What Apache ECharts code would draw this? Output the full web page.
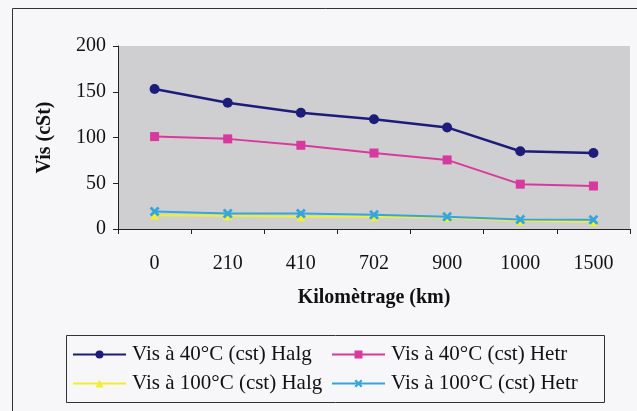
<!DOCTYPE html>
<html>
<head>
<meta charset="utf-8">
<script src="https://cdn.jsdelivr.net/npm/echarts@6/dist/echarts.min.js"></script>
<style>
html,body{margin:0;padding:0;background:#f7f7f9;}
#c{width:637px;height:411px;}
</style>
</head>
<body>
<div id="c"></div>
<script>
const categories = ['0', '210', '410', '702', '900', '1000', '1500'];
const vis40Halg = [153, 138, 127, 120, 111, 85, 83];
const vis40Hetr = [101, 98.5, 91.5, 83, 75.5, 49, 47];
const vis100Halg = [15, 14.5, 13.5, 13.5, 12.5, 9, 8];
const vis100Hetr = [19, 17, 17, 15.5, 13.5, 10.5, 10];
const yTicks = [0, 50, 100, 150, 200];
const seriesNames = ['Vis à 40°C (cst) Halg', 'Vis à 40°C (cst) Hetr', 'Vis à 100°C (cst) Halg', 'Vis à 100°C (cst) Hetr'];

const font = '"Liberation Serif", "Times New Roman", serif';
const xSym = 'path://M0,2L2,0L5,3L8,0L10,2L7,5L10,8L8,10L5,7L2,10L0,8L3,5Z';
const chart = echarts.init(document.getElementById('c'), null, {renderer: 'canvas'});

function legendAt(name, left, top) {
  return {
    data: [name], left: left, top: top, orient: 'horizontal',
    itemWidth: 53, itemHeight: 10, padding: 0, itemGap: 0,
    textStyle: {fontFamily: font, fontSize: 21, color: '#111', padding: [0, 0, 0, 1]},
    selectedMode: false
  };
}

const option = {
  backgroundColor: '#f7f7f9',
  animation: false,
  graphic: [
    {type: 'rect', shape: {x: 12.5, y: 8.5, width: 640, height: 420}, style: {fill: 'none', stroke: '#333', lineWidth: 1}, z: -1},
    {type: 'rect', shape: {x: 66.5, y: 335.5, width: 538, height: 67}, style: {fill: 'none', stroke: '#333', lineWidth: 1}, z: -1}
  ],
  legend: [
    legendAt(seriesNames[0], 72, 344),
    legendAt(seriesNames[1], 331, 344),
    legendAt(seriesNames[2], 72, 373),
    legendAt(seriesNames[3], 331, 373)
  ],
  grid: {left: 118, right: 7, top: 46, bottom: 182, show: true, backgroundColor: '#cfcfd2', borderWidth: 0},
  xAxis: {
    type: 'category', data: categories, boundaryGap: true,
    name: 'Kilomètrage (km)', nameLocation: 'middle', nameGap: 59,
    nameTextStyle: {fontFamily: font, fontSize: 20, fontWeight: 'bold', color: '#111'},
    axisLine: {lineStyle: {color: '#222', width: 1}},
    axisTick: {show: true, alignWithLabel: false, length: 5, lineStyle: {color: '#222'}},
    axisLabel: {fontFamily: font, fontSize: 20, color: '#111', margin: 25},
    splitLine: {show: false}
  },
  yAxis: {
    type: 'value', min: 0, max: 200, interval: 50,
    name: 'Vis (cSt)', nameLocation: 'middle', nameGap: 63,
    nameTextStyle: {fontFamily: font, fontSize: 20, fontWeight: 'bold', color: '#111'},
    axisLine: {show: true, lineStyle: {color: '#222', width: 1}},
    axisTick: {show: true, length: 5, lineStyle: {color: '#222'}},
    axisLabel: {fontFamily: font, fontSize: 20, color: '#111', margin: 12,
      formatter: v => yTicks.includes(v) ? String(v) : ''},
    splitLine: {show: false}
  },
  series: [
    {name: seriesNames[0], type: 'line', data: vis40Halg, symbol: 'circle', symbolSize: 10,
      lineStyle: {color: '#1c1c7a', width: 2.5}, itemStyle: {color: '#1c1c7a'}},
    {name: seriesNames[1], type: 'line', data: vis40Hetr, symbol: 'rect', symbolSize: 9,
      lineStyle: {color: '#d8399e', width: 2}, itemStyle: {color: '#d8399e'}},
    {name: seriesNames[2], type: 'line', data: vis100Halg, symbol: 'triangle', symbolSize: 9,
      lineStyle: {color: '#f2ee30', width: 2}, itemStyle: {color: '#f2ee30'}},
    {name: seriesNames[3], type: 'line', data: vis100Hetr, symbol: xSym, symbolSize: 10,
      lineStyle: {color: '#35a6dc', width: 2}, itemStyle: {color: '#35a6dc'}}
  ]
};
chart.setOption(option);
</script>
</body>
</html>
